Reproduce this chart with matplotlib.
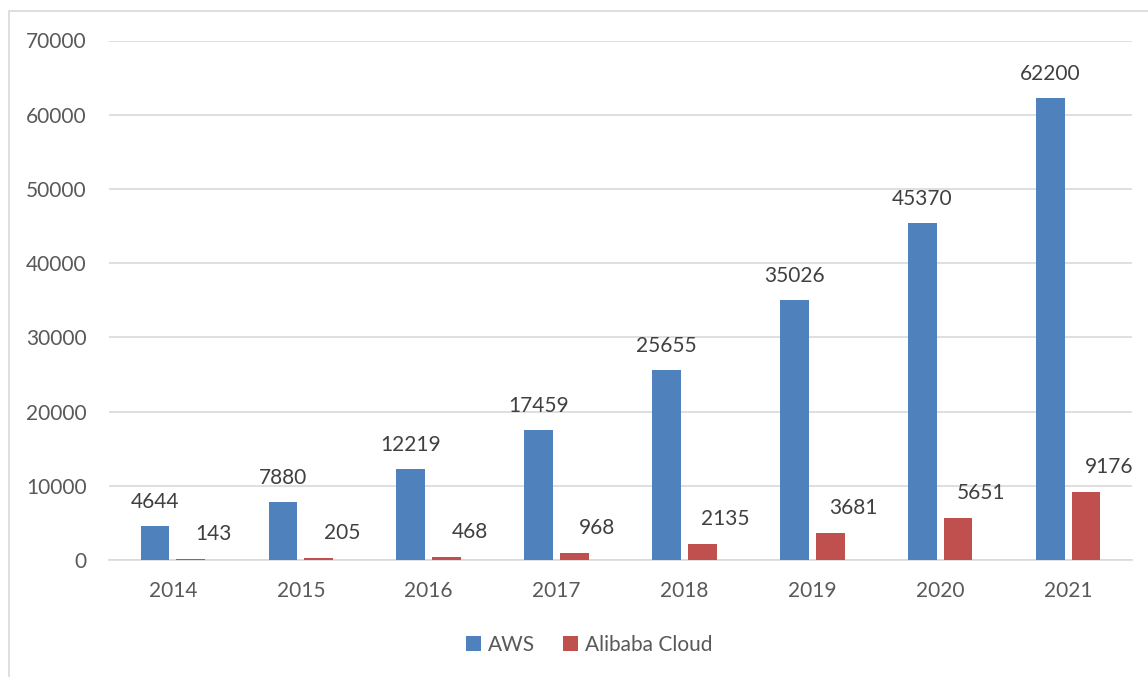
import matplotlib
matplotlib.use("Agg")
import matplotlib.pyplot as plt
from matplotlib.patches import Rectangle
import numpy as np

years = ["2014", "2015", "2016", "2017", "2018", "2019", "2020", "2021"]
aws = [4644, 7880, 12219, 17459, 25655, 35026, 45370, 62200]
alibaba = [143, 205, 468, 968, 2135, 3681, 5651, 9176]
series_names = ["AWS", "Alibaba Cloud"]

plt.rcParams['font.family'] = ['Lato', 'DejaVu Sans']

W, H = 1148, 677
fig = plt.figure(figsize=(W / 100, H / 100), dpi=100)

# chart border (Excel-like), cropped on right/bottom
fig.patches.append(Rectangle((9 / W, -0.1), 1.2, 1 - 11 / H + 0.1,
                             transform=fig.transFigure, fill=False,
                             edgecolor='#d9d9d9', linewidth=1.2))

left, right = 109 / W, 1132 / W
bottom, top = 1 - 560 / H, 1 - 40.5 / H
ax = fig.add_axes([left, bottom, right - left, top - bottom])

x = np.arange(len(years))
width = 0.225
off = 0.14
c_aws = '#4F81BD'
c_ali = '#C0504D'
b1 = ax.bar(x - off, aws, width, color=c_aws, label=series_names[0], zorder=3)
b2 = ax.bar(x + off, alibaba, width, color=c_ali, label=series_names[1], zorder=3)

ax.set_xlim(-0.5, len(years) - 0.5)
ax.set_ylim(0, 70000)
ax.set_yticks(np.arange(0, 70001, 10000))
ax.set_xticks(x)
ax.set_xticklabels(years)

ax.grid(axis='y', color='#d9d9d9', linewidth=1.2, zorder=0)
for s in ['top', 'right', 'left']:
    ax.spines[s].set_visible(False)
ax.spines['bottom'].set_color('#d9d9d9')
ax.spines['bottom'].set_linewidth(1.2)
ax.tick_params(axis='both', length=0, labelsize=15, colors='#595959')
ax.tick_params(axis='y', pad=16)
ax.tick_params(axis='x', pad=15)

for xi, v in zip(x, aws):
    ax.annotate(str(v), (xi - off, v), xytext=(0, 24), textcoords='offset pixels',
                ha='center', va='center', fontsize=15, color='#404040')
for xi, v in zip(x, alibaba):
    ax.annotate(str(v), (xi + off, v), xytext=(23, 25), textcoords='offset pixels',
                ha='center', va='center', fontsize=15, color='#404040')

fig.legend(handles=[b1, b2], labels=series_names, loc='center',
           bbox_to_anchor=(589 / W, 1 - 645 / H), ncol=2, frameon=False,
           fontsize=15, labelcolor='#595959', handlelength=0.75, handleheight=0.75,
           handletextpad=0.3, columnspacing=1.35)

fig.savefig('out.png', dpi=100)
